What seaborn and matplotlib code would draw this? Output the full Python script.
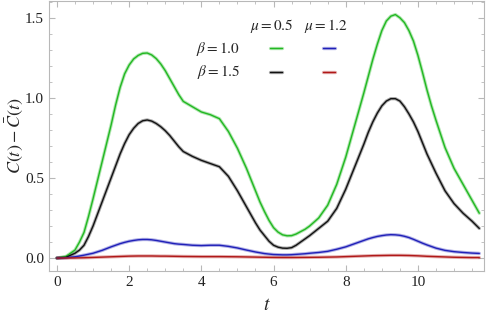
import numpy as np
import pandas as pd
import matplotlib
matplotlib.use("Agg")
import matplotlib.pyplot as plt
from matplotlib.lines import Line2D
from matplotlib.ticker import MultipleLocator
import seaborn as sns

# -----------------------------
# DATA
# -----------------------------
t = [0.0, 0.25, 0.5,
     0.625, 0.75, 0.875, 1.0, 1.125, 1.25, 1.375, 1.5,
     1.625, 1.75, 1.875, 2.0, 2.125, 2.25, 2.375, 2.5, 2.625, 2.75, 2.875, 3.0,
     3.125, 3.25, 3.375, 3.5,
     3.75, 4.0, 4.25, 4.5, 4.75, 5.0, 5.25, 5.5,
     5.625, 5.75, 5.875, 6.0, 6.125, 6.25, 6.375, 6.5, 6.625, 6.75, 6.875, 7.0,
     7.25, 7.5, 7.75, 8.0, 8.25,
     8.375, 8.5, 8.625, 8.75, 8.875, 9.0, 9.125, 9.25, 9.375, 9.5, 9.625, 9.75,
     9.875, 10.0, 10.125, 10.25, 10.375, 10.5,
     10.75, 11.0, 11.25, 11.5, 11.7]

# beta = 1.0, mu = 0.5
c_b10_m05 = [0.0, 0.01, 0.05,
             0.10, 0.16, 0.26, 0.37, 0.485, 0.60, 0.715, 0.83,
             0.955, 1.065, 1.15, 1.205, 1.243, 1.265, 1.278, 1.28, 1.268, 1.245, 1.212, 1.17,
             1.12, 1.07, 1.02, 0.978,
             0.945, 0.912, 0.895, 0.87, 0.79, 0.685, 0.56, 0.42,
             0.35, 0.29, 0.235, 0.19, 0.162, 0.145, 0.139, 0.14, 0.15, 0.165, 0.18, 0.20,
             0.25, 0.33, 0.46, 0.63, 0.83,
             0.93, 1.03, 1.135, 1.24, 1.335, 1.42, 1.48, 1.51, 1.52, 1.50, 1.47, 1.42,
             1.355, 1.265, 1.16, 1.05, 0.95, 0.86,
             0.69, 0.56, 0.46, 0.36, 0.28]
# beta = 1.5, mu = 0.5
c_b15_m05 = [0.0, 0.005, 0.03,
             0.05, 0.08, 0.135, 0.20, 0.275, 0.35, 0.425, 0.50,
             0.575, 0.65, 0.715, 0.77, 0.81, 0.84, 0.857, 0.862, 0.855, 0.84, 0.82, 0.795,
             0.765, 0.73, 0.695, 0.665,
             0.635, 0.61, 0.59, 0.57, 0.51, 0.42, 0.32, 0.22,
             0.175, 0.14, 0.105, 0.08, 0.068, 0.062, 0.061, 0.065, 0.08, 0.10, 0.12, 0.14,
             0.185, 0.23, 0.31, 0.43, 0.57,
             0.64, 0.71, 0.785, 0.85, 0.905, 0.95, 0.98, 0.995, 0.995, 0.98, 0.945, 0.90,
             0.85, 0.79, 0.72, 0.65, 0.59, 0.53,
             0.42, 0.34, 0.28, 0.23, 0.185]
# beta = 1.0, mu = 1.2
c_b10_m12 = [0.0, 0.002, 0.008,
             0.013, 0.018, 0.024, 0.03, 0.039, 0.048, 0.059, 0.07,
             0.08, 0.09, 0.098, 0.105, 0.11, 0.114, 0.116, 0.116, 0.114, 0.11, 0.105, 0.10,
             0.095, 0.09, 0.087, 0.085,
             0.08, 0.078, 0.08, 0.08, 0.073, 0.063, 0.05, 0.038,
             0.033, 0.028, 0.025, 0.022, 0.021, 0.02, 0.02, 0.021, 0.023, 0.025, 0.027, 0.03,
             0.035, 0.042, 0.055, 0.07, 0.09,
             0.10, 0.11, 0.12, 0.128, 0.135, 0.14, 0.144, 0.146, 0.145, 0.142, 0.136, 0.128,
             0.117, 0.105, 0.093, 0.082, 0.072, 0.062,
             0.048, 0.04, 0.035, 0.031, 0.029]
# beta = 1.5, mu = 1.2
c_b15_m12 = [0.0, 0.0005, 0.001,
             0.0015, 0.002, 0.003, 0.004, 0.005, 0.006, 0.007, 0.008,
             0.009, 0.01, 0.011, 0.012, 0.0125, 0.013, 0.013, 0.013, 0.013, 0.0125, 0.012, 0.012,
             0.0115, 0.011, 0.0105, 0.01,
             0.0095, 0.009, 0.009, 0.009, 0.0085, 0.008, 0.007, 0.006,
             0.0055, 0.005, 0.0045, 0.004, 0.0037, 0.0035, 0.0035, 0.0035, 0.0037, 0.004, 0.0042, 0.0045,
             0.005, 0.006, 0.007, 0.009, 0.011,
             0.012, 0.013, 0.014, 0.015, 0.0155, 0.016, 0.0165, 0.017, 0.017, 0.017, 0.0165, 0.016,
             0.015, 0.014, 0.0125, 0.011, 0.01, 0.009,
             0.007, 0.005, 0.004, 0.003, 0.003]

series = {
    "b10_m05": c_b10_m05,
    "b15_m05": c_b15_m05,
    "b10_m12": c_b10_m12,
    "b15_m12": c_b15_m12,
}
colors = {
    "b10_m05": "#22b822",
    "b15_m05": "#111111",
    "b10_m12": "#2020b8",
    "b15_m12": "#b01818",
}

df = pd.DataFrame(
    [(ti, v, k) for k, vals in series.items() for ti, v in zip(t, vals)],
    columns=["t", "C", "series"],
)

# -----------------------------
# STYLE
# -----------------------------
sns.set_style("ticks")
plt.rcParams["font.family"] = ["Liberation Serif", "DejaVu Serif"]
plt.rcParams["mathtext.fontset"] = "stix"

frame_col = "#b8b8b8"

fig = plt.figure(figsize=(4.88, 3.20), dpi=100)
ax = fig.add_axes([0.1004, 0.153, 0.8914, 0.844])

# pale band (stands in for the dense plot markers), then the thin line
sns.lineplot(data=df, x="t", y="C", hue="series", palette=colors,
             linewidth=2.4, alpha=0.35, legend=False, ax=ax, sort=False)
sns.lineplot(data=df, x="t", y="C", hue="series", palette=colors,
             linewidth=1.0, legend=False, ax=ax, sort=False)

ax.set_xlim(-0.22, 11.83)
ax.set_ylim(-0.081, 1.605)

ax.xaxis.set_major_locator(MultipleLocator(2))
ax.xaxis.set_minor_locator(MultipleLocator(0.5))
ax.yaxis.set_major_locator(MultipleLocator(0.5))
ax.yaxis.set_minor_locator(MultipleLocator(0.1))
ax.xaxis.set_major_formatter(plt.FuncFormatter(lambda v, p: f"{v:g}"))
ax.yaxis.set_major_formatter(plt.FuncFormatter(lambda v, p: f"{v:.1f}"))

ax.tick_params(which="both", direction="in", top=True, right=True,
               color=frame_col, labelsize=11, labelcolor="#222222")
ax.tick_params(which="major", length=4, width=0.8)
ax.tick_params(which="minor", length=2, width=0.6)
for s in ax.spines.values():
    s.set_color(frame_col)
    s.set_linewidth(0.8)

ax.set_xlabel(r"$t$", fontsize=14, labelpad=6)
ax.set_ylabel(r"$C(t)-\bar{C}(t)$", fontsize=13)
ax.yaxis.set_label_coords(-0.055, 0.5)

# -----------------------------
# LEGEND GRID
# -----------------------------
txt = dict(transform=ax.transAxes, ha="center", va="center", fontsize=11)
ax.text(0.513, 0.908, r"$\mu = 0.5$", **txt)
ax.text(0.637, 0.908, r"$\mu = 1.2$", **txt)
ax.text(0.389, 0.823, r"$\beta = 1.0$", **txt)
ax.text(0.389, 0.738, r"$\beta = 1.5$", **txt)

keys = [("b10_m05", 0.522, 0.826), ("b10_m12", 0.644, 0.826),
        ("b15_m05", 0.522, 0.738), ("b15_m12", 0.644, 0.738)]
for k, xk, yk in keys:
    ax.add_line(Line2D([xk - 0.014, xk + 0.014], [yk, yk], transform=ax.transAxes,
                       color=colors[k], linewidth=1.0))
    ax.add_line(Line2D([xk - 0.014, xk + 0.014], [yk, yk], transform=ax.transAxes,
                       color=colors[k], linewidth=2.4, alpha=0.35))

fig.savefig("out.png", dpi=100)
